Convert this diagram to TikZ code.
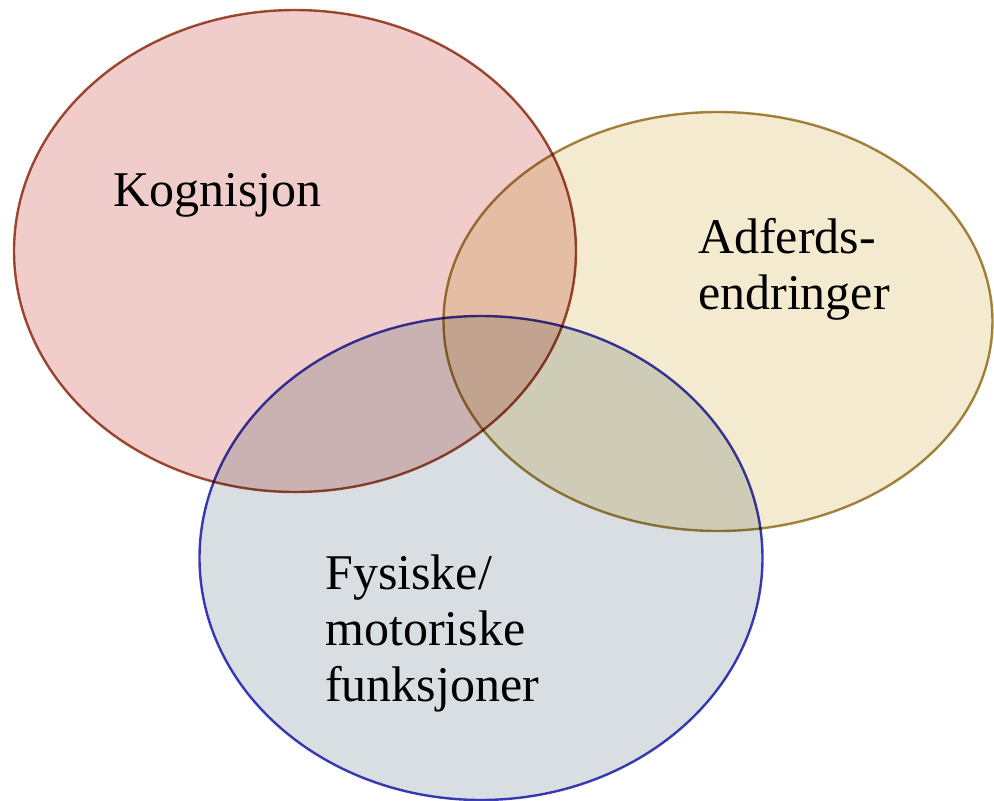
\documentclass[tikz,border=0pt]{standalone}
\usepackage{fontspec}
\setmainfont{Liberation Serif}
\usetikzlibrary{shapes.geometric}
\definecolor{redfill}{RGB}{240,205,202}
\definecolor{redline}{RGB}{160,78,52}
\definecolor{yelfill}{RGB}{244,234,208}
\definecolor{yelline}{RGB}{165,135,65}
\definecolor{blufill}{RGB}{216,222,225}
\definecolor{bluline}{RGB}{60,60,190}
\tikzset{
  setshape/.style={ellipse, inner sep=0pt, line width=2.4pt},
  lbl/.style={font=\fontsize{50}{56}\selectfont, align=left, anchor=base west, inner sep=0pt}
}
\begin{document}
\begin{tikzpicture}[x=1pt,y=-1pt]
\useasboundingbox (0,0) rectangle (994,801);
\fill[white] (0,0) rectangle (994,801);
\begin{scope}[blend group=multiply]
\node[setshape, fill=redfill, draw=redline, minimum width=562pt, minimum height=482pt] (kog) at (295,251) {};
\node[setshape, fill=yelfill, draw=yelline, minimum width=549pt, minimum height=419pt] (adf) at (718,321.5) {};
\node[setshape, fill=blufill, draw=bluline, minimum width=563pt, minimum height=484pt] (fys) at (481,558) {};
\end{scope}
\node[lbl] (t1) at (113,206) {Kognisjon};
\node[lbl] (t2) at (698,309) {Adferds-\\endringer};
\node[lbl] (t3) at (325,701) {Fysiske/\\motoriske\\funksjoner};
\end{tikzpicture}
\end{document}
